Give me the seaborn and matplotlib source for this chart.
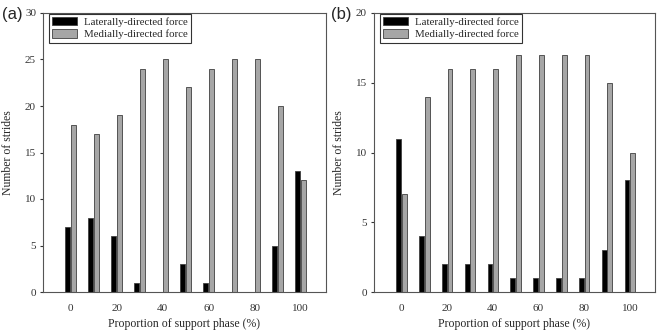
import numpy as np
import pandas as pd
import matplotlib
matplotlib.use("Agg")
import matplotlib.pyplot as plt
import seaborn as sns

# 支持期の割合 (%)
phase = [0, 10, 20, 30, 40, 50, 60, 70, 80, 90, 100]

# (a)
lateral_a = [7, 8, 6, 1, 0, 3, 1, 0, 0, 5, 13]
medial_a = [18, 17, 19, 24, 25, 22, 24, 25, 25, 20, 12]

# (b)
lateral_b = [11, 4, 2, 2, 2, 1, 1, 1, 1, 3, 8]
medial_b = [7, 14, 16, 16, 16, 17, 17, 17, 17, 15, 10]

series_names = ["Laterally-directed force", "Medially-directed force"]

sns.set_style("white")
plt.rcParams["font.family"] = ["Liberation Serif", "DejaVu Serif"]


def make_df(lat, med):
    return pd.DataFrame({
        "phase": phase * 2,
        "count": lat + med,
        "force": [series_names[0]] * len(phase) + [series_names[1]] * len(phase),
    })


def draw(ax, lat, med, ymax, yticks):
    df = make_df(lat, med)
    sns.barplot(data=df, x="phase", y="count", hue="force", native_scale=True,
                palette=["black", "#a6a6a6"], width=0.5, gap=0.15,
                edgecolor="#404040", linewidth=0.6, ax=ax, legend=True)
    ax.set_xlim(-12, 111)
    ax.set_ylim(0, ymax)
    ax.set_xticks([0, 20, 40, 60, 80, 100])
    ax.set_yticks(yticks)
    ax.tick_params(axis="both", labelsize=8, length=2.5, pad=2.5, colors="#333333")
    ax.tick_params(axis="y", left=True, direction="out")
    ax.tick_params(axis="x", bottom=False, pad=6)
    ax.set_xlabel("Proportion of support phase (%)", fontsize=8.5)
    ax.set_ylabel("Number of strides", fontsize=8.5, labelpad=8)
    for s in ax.spines.values():
        s.set_color("#555555")
        s.set_linewidth(0.8)
    leg = ax.legend(loc="upper left", bbox_to_anchor=(0.02, 1.0), fontsize=7.8,
                    frameon=True, fancybox=False, edgecolor="black",
                    handlelength=2.3, handleheight=0.8, handletextpad=0.6,
                    borderaxespad=0.05, borderpad=0.3, labelspacing=0.25)
    leg.get_frame().set_linewidth(0.8)


fig = plt.figure(figsize=(6.6, 3.31), dpi=100)
ax1 = fig.add_axes([43 / 660, 1 - 292 / 331, 283 / 660, 279 / 331])
ax2 = fig.add_axes([374 / 660, 1 - 292 / 331, 281 / 660, 279 / 331])

draw(ax1, lateral_a, medial_a, 30, [0, 5, 10, 15, 20, 25, 30])
draw(ax2, lateral_b, medial_b, 20, [0, 5, 10, 15, 20])

for x, tag in [(2, "(a)"), (331, "(b)")]:
    fig.text(x / 660, 1 - 15 / 331, tag, fontsize=12,
             family=["Liberation Sans", "DejaVu Sans"], va="center", ha="left")

fig.savefig("out.png", dpi=100)
